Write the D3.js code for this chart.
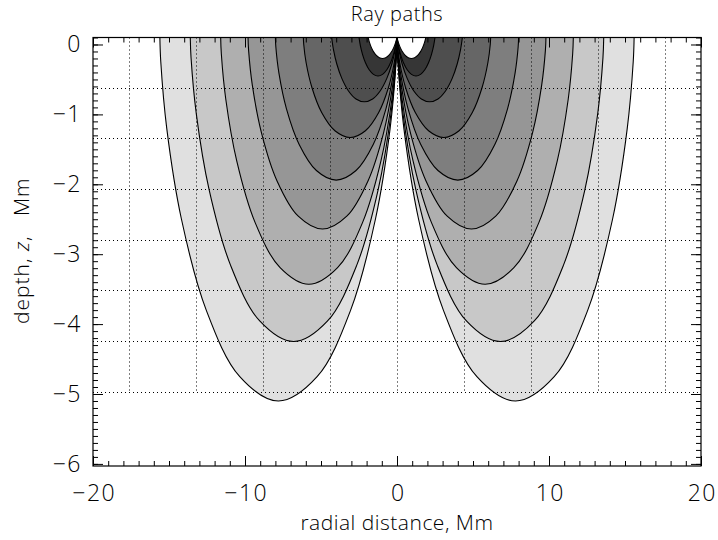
<!DOCTYPE html>
<html>
<head>
<meta charset="utf-8">
<script src="https://cdn.jsdelivr.net/npm/d3@7"></script>
<style>
  body { margin: 0; background: #fff; }
  text { font-family: "Open Sans", "DejaVu Sans", sans-serif; font-weight: 300; fill: #000; }
</style>
</head>
<body>
<script>
// ray paths, right-hand half of each ray: from the source (0, top) down to its turning point
// [x Mm, z Mm]; the other half is the mirror image about the turning point
const rayHalves = [
  [[0, 0.1], [0.087, 0.03], [0.209, -0.041], [0.361, -0.105], [0.541, -0.156], [0.74, -0.189], [0.95, -0.2]],
  [[0, 0.1], [0.089, -0.015], [0.231, -0.141], [0.426, -0.262], [0.67, -0.362], [0.95, -0.427], [1.25, -0.45]],
  [[0, 0.1], [0.12, -0.073], [0.34, -0.279], [0.669, -0.485], [1.097, -0.661], [1.602, -0.779], [2.15, -0.82]],
  [[0, 0.1], [0.023, 0.004], [0.179, -0.258], [0.561, -0.615], [1.204, -0.973], [2.076, -1.234], [3.08, -1.33]],
  [[0, 0.1], [0.03, -0.037], [0.232, -0.41], [0.728, -0.92], [1.564, -1.43], [2.696, -1.803], [4.0, -1.94]],
  [[0, 0.1], [0.037, -0.084], [0.284, -0.585], [0.892, -1.27], [1.916, -1.955], [3.303, -2.456], [4.9, -2.64]],
  [[0, 0.1], [0.044, -0.137], [0.336, -0.783], [1.056, -1.665], [2.268, -2.548], [3.909, -3.193], [5.8, -3.43]],
  [[0, 0.1], [0.051, -0.191], [0.394, -0.988], [1.238, -2.075], [2.659, -3.163], [4.583, -3.959], [6.8, -4.25]],
  [[0, 0.1], [0.059, -0.248], [0.452, -1.2], [1.42, -2.5], [3.05, -3.8], [5.257, -4.752], [7.8, -5.1]]
];
// fill of the band inside each ray (innermost first)
const bandFills = ["#ffffff", "#363636", "#4e4e4e", "#666666", "#7e7e7e", "#969696", "#afafaf", "#c8c8c8", "#e0e0e0"];

const gridX = [-17.6, -13.2, -8.8, -4.4, 0, 4.4, 8.8, 13.2, 17.6];
const gridZ = [-0.62, -1.34, -2.07, -2.79, -3.51, -4.24, -4.97];

const xMajor = [-20, -10, 0, 10, 20];
const xMinor = d3.range(-20, 20.01, 1);
const yMajor = [0, -1, -2, -3, -4, -5, -6];
const yMinor = d3.range(-6, 0.101, 0.1);

const width = 718, height = 540;
const x = d3.scaleLinear([-20, 20], [93, 701]);
const y = d3.scaleLinear([-6.03, 0.1], [466, 37.5]);

const svg = d3.select("body").append("svg")
    .attr("width", width)
    .attr("height", height);

svg.append("clipPath").attr("id", "plot")
  .append("rect")
    .attr("x", x(-20)).attr("y", y(0.1))
    .attr("width", x(20) - x(-20)).attr("height", y(-6.03) - y(0.1));

// full ray = half + mirrored half
function fullRay(half) {
  const t = half[half.length - 1];
  const back = half.slice(0, -1).reverse().map(d => [2 * t[0] - d[0], d[1]]);
  return half.concat(back);
}

const rays = [];
rayHalves.forEach((h, i) => {
  const r = fullRay(h);
  rays.push({i, pts: r});
  rays.push({i, pts: r.map(d => [-d[0], d[1]])});
});

const line = d3.line()
    .x(d => x(d[0]))
    .y(d => y(d[1]))
    .curve(d3.curveCatmullRom.alpha(0.5));

const g = svg.append("g").attr("clip-path", "url(#plot)");

// outer (light) bands first, inner ones on top
g.append("g")
  .selectAll("path")
  .data(rays.slice().sort((a, b) => b.i - a.i))
  .join("path")
    .attr("d", d => line(d.pts) + "Z")
    .attr("fill", d => bandFills[d.i])
    .attr("stroke", "none");

g.append("g")
  .selectAll("path")
  .data(rays)
  .join("path")
    .attr("d", d => line(d.pts))
    .attr("fill", "none")
    .attr("stroke", "#000")
    .attr("stroke-width", 1.1);

// dotted grid
const grid = svg.append("g")
    .attr("stroke", "#000")
    .attr("stroke-width", 1)
    .attr("stroke-dasharray", "1,3");

grid.selectAll("line.h")
  .data(gridZ)
  .join("line")
    .attr("class", "h")
    .attr("x1", x(-20)).attr("x2", x(20))
    .attr("y1", d => Math.round(y(d)) + 0.5).attr("y2", d => Math.round(y(d)) + 0.5);

grid.selectAll("line.v")
  .data(gridX)
  .join("line")
    .attr("class", "v")
    .attr("x1", d => Math.round(x(d)) + 0.5).attr("x2", d => Math.round(x(d)) + 0.5)
    .attr("y1", y(0.1)).attr("y2", y(d3.min(gridZ)));

// axes, ticks pointing inward like IDL
const fs = 23;
function styleAxis(sel) {
  sel.select(".domain").remove();
  sel.selectAll("line").attr("stroke", "#000").attr("stroke-width", 1);
  sel.selectAll("text").style("font-size", fs + "px").style("letter-spacing", "1.5px");
}

svg.append("g")
    .attr("transform", `translate(0,${y(-6.03)})`)
    .call(d3.axisBottom(x).tickValues(xMajor).tickSize(-10).tickPadding(19))
    .call(styleAxis)
    .selectAll("text").attr("dx", "0.75px");
svg.append("g")
    .attr("transform", `translate(0,${y(-6.03)})`)
    .call(d3.axisBottom(x).tickValues(xMinor).tickSize(-5).tickFormat(""))
    .call(styleAxis);
svg.append("g")
    .attr("transform", `translate(0,${y(0.1)})`)
    .call(d3.axisTop(x).tickValues(xMajor).tickSize(-10).tickFormat(""))
    .call(styleAxis);
svg.append("g")
    .attr("transform", `translate(0,${y(0.1)})`)
    .call(d3.axisTop(x).tickValues(xMinor).tickSize(-5).tickFormat(""))
    .call(styleAxis);

svg.append("g")
    .attr("transform", `translate(${x(-20)},0)`)
    .call(d3.axisLeft(y).tickValues(yMajor).tickSize(-10).tickPadding(11).tickFormat(d3.format("d")))
    .call(styleAxis);
svg.append("g")
    .attr("transform", `translate(${x(-20)},0)`)
    .call(d3.axisLeft(y).tickValues(yMinor).tickSize(-5).tickFormat(""))
    .call(styleAxis);
svg.append("g")
    .attr("transform", `translate(${x(20)},0)`)
    .call(d3.axisRight(y).tickValues(yMajor).tickSize(-10).tickFormat(""))
    .call(styleAxis);
svg.append("g")
    .attr("transform", `translate(${x(20)},0)`)
    .call(d3.axisRight(y).tickValues(yMinor).tickSize(-5).tickFormat(""))
    .call(styleAxis);

// frame
svg.append("rect")
    .attr("x", x(-20)).attr("y", y(0.1))
    .attr("width", x(20) - x(-20)).attr("height", y(-6.03) - y(0.1))
    .attr("fill", "none")
    .attr("stroke", "#000")
    .attr("stroke-width", 1.2);

// titles
svg.append("text")
    .attr("x", x(0)).attr("y", 21)
    .attr("text-anchor", "middle")
    .style("font-size", "20px")
    .style("letter-spacing", "0.6px")
    .text("Ray paths");

svg.append("text")
    .attr("x", x(0)).attr("y", 530)
    .attr("text-anchor", "middle")
    .style("font-size", "21px")
    .style("letter-spacing", "0.5px")
    .text("radial distance, Mm");

const yt = svg.append("text")
    .attr("transform", `translate(29,${y(-2.95)}) rotate(-90)`)
    .attr("text-anchor", "middle")
    .style("font-size", "21px")
    .style("letter-spacing", "1px")
    .attr("xml:space", "preserve");
yt.append("tspan").text("depth, ");
yt.append("tspan").style("font-style", "italic").text("z");
yt.append("tspan").text(",   Mm");
</script>
</body>
</html>
